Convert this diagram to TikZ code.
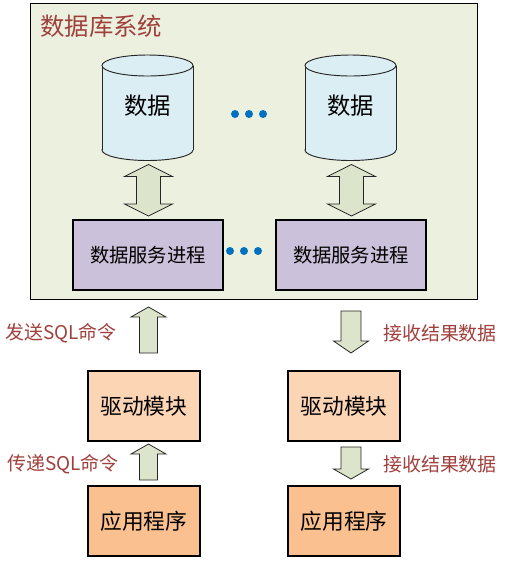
\documentclass[tikz,border=0pt]{standalone}
\usepackage{fontspec}
\newfontfamily\cjk{Noto Sans CJK SC}
\definecolor{bggreen}{HTML}{EBF1DE}
\definecolor{cylblue}{HTML}{DBEEF4}
\definecolor{arrfill}{HTML}{DDE4CC}
\definecolor{svcpurple}{HTML}{CCC1DA}
\definecolor{drvpeach}{HTML}{FCD5B5}
\definecolor{apporange}{HTML}{FAC090}
\definecolor{lblred}{HTML}{A0403D}
\definecolor{dotblue}{HTML}{0070C0}
\tikzset{
  box/.style={draw=black, line width=0.8pt, inner sep=0pt},
  arr/.style={draw=black!85, fill=arrfill, line width=0.6pt, line join=miter},
  lbl/.style={text=lblred, font=\cjk\fontsize{14.2pt}{16pt}\selectfont, inner sep=0pt},
  dot/.style={circle, fill=dotblue, inner sep=0pt, minimum size=6pt},
}
% vertical block arrow: center x, tip y, tail y, half head width, half shaft width, head length
\newcommand\VArrow[6]{%
  \path[arr] (#1,#2) -- ({#1+#4},{#2+#6}) -- ({#1+#5},{#2+#6}) -- ({#1+#5},#3)
    -- ({#1-#5},#3) -- ({#1-#5},{#2+#6}) -- ({#1-#4},{#2+#6}) -- cycle;}
\newcommand\VDArrow[6]{%
  \path[arr] (#1,#2) -- ({#1+#4},{#2+#6}) -- ({#1+#5},{#2+#6}) -- ({#1+#5},{#3-#6})
    -- ({#1+#4},{#3-#6}) -- (#1,#3) -- ({#1-#4},{#3-#6}) -- ({#1-#5},{#3-#6})
    -- ({#1-#5},{#2+#6}) -- ({#1-#4},{#2+#6}) -- cycle;}
\newcommand\DBCyl[3]{% center x, name, text
  \path[draw=black!85, fill=cylblue, line width=0.7pt] (#1,150) ellipse [x radius=45.5, y radius=10.5];
  \path[fill=cylblue] ({#1-45.2},65.5) rectangle ({#1+45.2},150);
  \draw[black!85, line width=0.7pt] ({#1-45.5},65.5) -- ({#1-45.5},150) ({#1+45.5},65.5) -- ({#1+45.5},150);
  \path[draw=black!85, fill=cylblue, line width=0.7pt] (#1,65.5) ellipse [x radius=45.5, y radius=10.5];
  \node[font=\cjk\fontsize{17.5pt}{19pt}\selectfont, inner sep=0pt] (#2) at (#1,106) {#3};}
\begin{document}
\begin{tikzpicture}[x=0.75pt,y=-0.75pt]
\useasboundingbox (0,0) rectangle (505,562);
\fill[white] (0,0) rectangle (505,562);
% database system container
\node[box, fill=bggreen, minimum width=447*0.75pt, minimum height=296*0.75pt, anchor=north west] (sys) at (30,3) {};
\node[text=lblred, font=\cjk\fontsize{18.3pt}{20pt}\selectfont, anchor=west, inner sep=0pt] (title) at (40,26) {数据库系统};
% cylinders
\DBCyl{147.5}{db1}{数据}
\DBCyl{350.5}{db2}{数据}
\node[dot] (d1) at (235,114) {};
\node[dot] (d2) at (249,114) {};
\node[dot] (d3) at (263,114) {};
% service boxes
\node[box, fill=svcpurple, minimum width=150*0.75pt, minimum height=70*0.75pt, font=\cjk\fontsize{14.5pt}{16pt}\selectfont] (s1) at (148,255) {数据服务进程};
\node[box, fill=svcpurple, minimum width=150*0.75pt, minimum height=70*0.75pt, font=\cjk\fontsize{14.5pt}{16pt}\selectfont] (s2) at (351,255) {数据服务进程};
\node[dot] (e1) at (230,251) {};
\node[dot] (e2) at (244,251) {};
\node[dot] (e3) at (258,251) {};
% double arrows
\VDArrow{148.5}{164.5}{216}{24}{12}{12}
\VDArrow{351.5}{164.5}{216}{24}{12}{12}
% driver boxes
\node[box, fill=drvpeach, minimum width=112*0.75pt, minimum height=70*0.75pt, font=\cjk\fontsize{16.3pt}{18pt}\selectfont] (dr1) at (144,406) {驱动模块};
\node[box, fill=drvpeach, minimum width=112*0.75pt, minimum height=70*0.75pt, font=\cjk\fontsize{16.3pt}{18pt}\selectfont] (dr2) at (344,406) {驱动模块};
% app boxes
\node[box, fill=apporange, minimum width=112*0.75pt, minimum height=70*0.75pt, font=\cjk\fontsize{16.3pt}{18pt}\selectfont] (ap1) at (144,521) {应用程序};
\node[box, fill=apporange, minimum width=112*0.75pt, minimum height=70*0.75pt, font=\cjk\fontsize{16.3pt}{18pt}\selectfont] (ap2) at (344,521) {应用程序};
% single arrows
\VArrow{148.5}{307}{353}{17.5}{9}{10}
\VArrow{148.5}{444}{480}{17.5}{9}{10}
\VArrow{351}{353}{311}{17.5}{10}{-12}
\VArrow{351}{479}{447}{17.5}{10}{-10}
% labels
\node[lbl, anchor=west] (l1) at (5,333) {发送SQL命令};
\node[lbl, anchor=west] (l2) at (7,464) {传递SQL命令};
\node[lbl, anchor=west] (l3) at (383,333) {接收结果数据};
\node[lbl, anchor=west] (l4) at (383,464) {接收结果数据};
\end{tikzpicture}
\end{document}
